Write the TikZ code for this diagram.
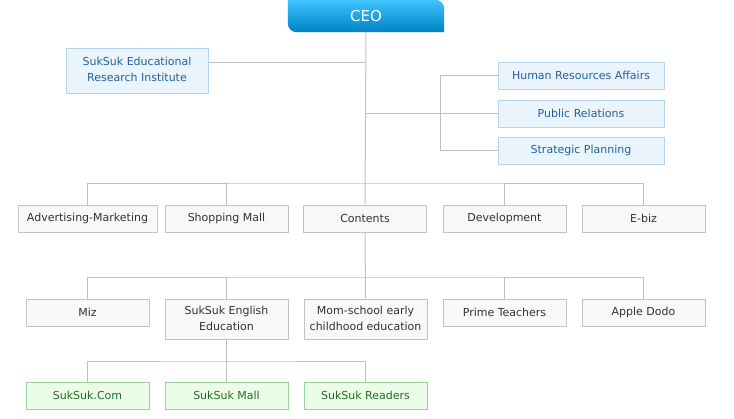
\documentclass[tikz,border=0pt]{standalone}
\usepackage{fontspec}
\setsansfont{DejaVu Sans}
\usepackage{tikz}
\usetikzlibrary{positioning,backgrounds}

\definecolor{lineGray}{HTML}{C0C0C0}
\definecolor{boxGray}{HTML}{C3C3C3}
\definecolor{fillGray}{HTML}{F8F8F8}
\definecolor{textGray}{HTML}{333333}
\definecolor{boxBlue}{HTML}{B4D3EE}
\definecolor{fillBlue}{HTML}{EAF4FC}
\definecolor{textBlue}{HTML}{24609F}
\definecolor{boxGreen}{HTML}{99D49A}
\definecolor{fillGreen}{HTML}{EBFCE7}
\definecolor{textGreen}{HTML}{2A6A2A}
\definecolor{ceoTop}{HTML}{3EC4FF}
\definecolor{ceoBottom}{HTML}{0082C4}
\definecolor{ceoShade}{HTML}{D8D8D8}

\begin{document}
\begin{tikzpicture}[
    x=1pt, y=-1pt,
    font=\sffamily\fontsize{11}{16}\selectfont,
    unit/.style={
		rectangle,
		draw=boxGray,
		fill=fillGray,
		text=textGray,
		text centered,
		minimum width=123pt,
		minimum height=27pt,
		inner sep=2pt,
		line width=1pt
	},
	staff/.style={
		unit,
		draw=boxBlue,
		fill=fillBlue,
		text=textBlue,
		minimum width=166pt
	},
	brand/.style={
		unit,
		draw=boxGreen,
		fill=fillGreen,
		text=textGreen
	},
	tall/.style={
		minimum height=40pt
	},
	ceo/.style={
		minimum width=156pt,
		minimum height=32pt,
		inner sep=0pt,
		text=white,
		font=\sffamily\fontsize{15}{18}\selectfont
	},
	link/.style={
		draw=lineGray,
		line width=1pt
	}
  ]
  \useasboundingbox (0,0) rectangle (734,418);

    % We start by placing the blocks
  \node [ceo] (ceo) at (366,16) {CEO};

  \node [staff, minimum width=142pt, minimum height=45pt] (research) at (137,70.5)
 {%
 \begin{tabular}{@{}c@{}}
  SukSuk Educational\\
  Research Institute
 \end{tabular}
 };

  \node [staff] (hr) at (581,75.5) {Human Resources Affairs};
  \node [staff] (pr) at (581,113.5) {Public Relations};
  \node [staff] (sp) at (581,150.5) {Strategic Planning};

  % divisions
  \node [unit, minimum width=139pt] (adv) at (87.5,218.5) {Advertising-Marketing};
  \node [unit] (shop) at (226.5,218.5) {Shopping Mall};
  \node [unit] (contents) at (365,218.5) {Contents};
  \node [unit] (dev) at (504.5,218.5) {Development};
  \node [unit] (ebiz) at (643.5,218.5) {E-biz};

  % contents
  \node [unit] (miz) at (87.5,312.5) {Miz};
  \node [unit, tall] (english) at (226.5,319)
 {%
 \begin{tabular}{@{}c@{}}
  SukSuk English\\
  Education
 \end{tabular}
 };
  \node [unit, tall] (mom) at (365.5,319)
 {%
 \begin{tabular}{@{}c@{}}
  Mom-school early\\
  childhood education
 \end{tabular}
 };
  \node [unit] (prime) at (504.5,312.5) {Prime Teachers};
  \node [unit] (apple) at (643.5,312.5) {Apple Dodo};

  % english
  \node [brand] (sscom) at (87.5,395.5) {SukSuk.Com};
  \node [brand] (mall) at (226.5,395.5) {SukSuk Mall};
  \node [brand] (readers) at (365.5,395.5) {SukSuk Readers};

  % CEO box
  \begin{scope}[on background layer]
  \fill [ceoShade, xshift=1.5pt, yshift=-1.5pt] (ceo.north west) -- ([xshift=-9pt]ceo.north east)
    arc [start angle=90, end angle=0, radius=9pt] -- (ceo.south east)
    -- ([xshift=9pt]ceo.south west) arc [start angle=270, end angle=180, radius=9pt] -- cycle;
  \shade [top color=ceoTop, bottom color=ceoBottom] (ceo.north west) -- ([xshift=-9pt]ceo.north east)
    arc [start angle=90, end angle=0, radius=9pt] -- (ceo.south east)
    -- ([xshift=9pt]ceo.south west) arc [start angle=270, end angle=180, radius=9pt] -- cycle;
  \end{scope}

  % lines
  \coordinate (bar1) at (366,183);
  \coordinate (bar2) at (366,277);
  \coordinate (bar3) at (229,361);

  \draw [link] (ceo.south) -- (contents.north);
  \draw [link] ([yshift=8.5pt]research.east) -- ([yshift=8.5pt]research.east -| ceo.south);
  \draw [link] (pr.west) -- (pr.west -| ceo.south);
  \draw [link] (hr.west) -- ++(-57,0) |- (sp.west);

  \draw [link] (adv.north) |- (bar1) -| (ebiz.north);
  \foreach \n in {shop,dev}
    \draw [link] (\n.north) -- (\n.north |- bar1);

  \draw [link] (contents.south) -- (mom.north);
  \draw [link] (miz.north) |- (bar2) -| (apple.north);
  \foreach \n in {english,prime}
    \draw [link] (\n.north) -- (\n.north |- bar2);

  \draw [link] (english.south) -- (mall.north);
  \draw [link] (sscom.north) |- (bar3) -| (readers.north);

\end{tikzpicture}
\end{document}
